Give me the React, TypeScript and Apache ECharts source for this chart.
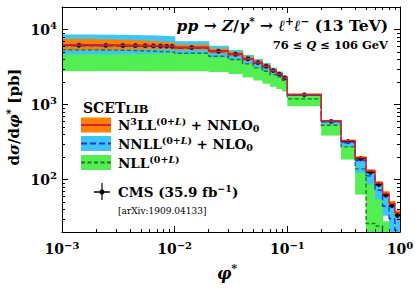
import React, { useEffect, useRef } from 'react';
import * as echarts from 'echarts';

// phi* bin edges
const binEdges = [
  0.001, 0.002, 0.003, 0.004, 0.005, 0.006, 0.007, 0.008, 0.009,
  0.01, 0.02, 0.03, 0.04, 0.05, 0.06, 0.07, 0.08, 0.09,
  0.1, 0.2, 0.3, 0.4, 0.5, 0.6, 0.7, 0.8, 0.9, 1.0,
];

// CMS data [pb]
const cmsValues = [6180, 6160, 6140, 6120, 6100, 6060, 6040, 6010, 5970, 5760, 5140, 4690, 4080, 3630, 3240, 2840, 2550, 2270, 1347, 598, 321, 190, 125, 86, 62, 45, 33.4];
const cmsErrors = [120, 120, 120, 120, 120, 120, 120, 120, 120, 110, 100, 90, 80, 75, 65, 60, 55, 50, 30, 14, 8, 6, 4, 3.5, 3, 2.5, 2.2];

// N3LL(0+L)+NNLO0
const n3llCentral = [6210, 6190, 6170, 6150, 6120, 6090, 6060, 6030, 5990, 5790, 5160, 4700, 4090, 3640, 3250, 2850, 2560, 2280, 1360, 605, 330, 196, 130, 90, 65, 48, 36];
const n3llLow = [5330, 5360, 5400, 5430, 5450, 5470, 5480, 5480, 5460, 5360, 4800, 4410, 3850, 3440, 3080, 2710, 2440, 2180, 1320, 585, 314, 185, 122, 84, 60, 44, 32];
const n3llHigh = [7470, 7400, 7300, 7200, 7100, 7000, 6900, 6800, 6700, 6280, 5550, 5020, 4330, 3830, 3400, 2970, 2660, 2360, 1400, 625, 342, 205, 137, 95, 70, 52, 39];

// NNLL(0+L)+NLO0
const nnllCentral = [6100, 6080, 6060, 6040, 6010, 5980, 5950, 5920, 5880, 5650, 5060, 4610, 4010, 3570, 3190, 2800, 2520, 2250, 1340, 590, 310, 180, 112, 72, 44, 30, 21];
const nnllLow = [4640, 4660, 4680, 4700, 4730, 4760, 4800, 4850, 4900, 4720, 4220, 3890, 3470, 3120, 2820, 2500, 2300, 2090, 1300, 545, 275, 123, 86, 54, 33, 15, 12];
const nnllHigh = [8580, 8550, 8500, 8450, 8400, 8350, 8300, 8230, 8150, 7000, 6000, 5300, 4550, 4000, 3530, 3060, 2710, 2390, 1380, 615, 330, 198, 130, 90, 64, 48, 35];

// NLL(0+L)
const nllCentral = [5360, 5320, 5280, 5230, 5180, 5130, 5080, 5040, 5000, 4830, 4400, 3990, 3490, 3090, 2780, 2510, 2340, 2110, 1191, 530, 273, 139, 26, 24, 12, 8, 5];
const nllLow = [2790, 2790, 2790, 2785, 2785, 2780, 2780, 2780, 2780, 2780, 2720, 2550, 2300, 2100, 1900, 1730, 1610, 1490, 949, 386, 185, 63, 10, 10, 10, 5, 5];
const nllHigh = [8000, 7950, 7900, 7850, 7800, 7750, 7700, 7650, 7600, 6900, 6100, 5350, 4600, 4050, 3580, 3110, 2760, 2430, 1330, 581, 300, 160, 100, 60, 27.8, 20, 15];

// ticks
const xMajorTicks = [0.001, 0.01, 0.1, 1];
const xMinorTicks = [0.002, 0.003, 0.004, 0.005, 0.006, 0.007, 0.008, 0.009, 0.02, 0.03, 0.04, 0.05, 0.06, 0.07, 0.08, 0.09, 0.2, 0.3, 0.4, 0.5, 0.6, 0.7, 0.8, 0.9];
const yMajorTicks = [100, 1000, 10000];
const yMinorTicks = [30, 40, 50, 60, 70, 80, 90, 200, 300, 400, 500, 600, 700, 800, 900, 2000, 3000, 4000, 5000, 6000, 7000, 8000, 9000];

const X_MIN = 0.001, X_MAX = 1, Y_MIN = 20, Y_MAX = 20000;

const FONT = '"DejaVu Serif", "Liberation Serif", serif';
const C_ORANGE = '#ff8000';
const C_RED = '#d8203c';
const C_CYAN = '#40c4f2';
const C_BLUE = '#1a35e8';
const C_GREEN = '#52ee52';
const C_DGREEN = '#1c7a1c';

function bandSeries(name: string, lo: number[], hi: number[], color: string) {
  return {
    type: 'custom', name, silent: true, clip: true,
    encode: { x: [0, 1], y: [2, 3] },
    data: lo.map((l, i) => [binEdges[i], binEdges[i + 1], l, hi[i]]),
    renderItem: (params: any, api: any) => {
      const cs = params.coordSys;
      const a = api.coord([api.value(0), api.value(3)]);
      const b = api.coord([api.value(1), api.value(2)]);
      const top = Math.max(a[1], cs.y);
      const bottom = Math.min(b[1], cs.y + cs.height);
      if (bottom <= top) return null;
      return {
        type: 'rect',
        shape: { x: a[0], y: top, width: b[0] - a[0] + 0.6, height: bottom - top },
        style: { fill: color },
      };
    },
  };
}

function stepSeries(name: string, vals: number[], color: string, width: number, dash: any) {
  return {
    type: 'line', name, silent: true, step: 'end', symbol: 'none', showSymbol: false, clip: true,
    data: binEdges.map((e, i) => [e, vals[Math.min(i, vals.length - 1)]]),
    lineStyle: { color, width, type: dash },
  };
}

const supText = (e: number) => (e < 0 ? '\u2212' + (-e) : String(e));
const tickRich = {
  b: { fontFamily: FONT, fontWeight: 'bold', fontSize: 14, lineHeight: 18, color: '#000' },
  s: { fontFamily: FONT, fontWeight: 'bold', fontSize: 10, lineHeight: 10, verticalAlign: 'top', color: '#000' },
};
const tickFormatter = (v: number) => `{b|10}{s|${supText(Math.round(Math.log10(v)))}}`;

function xAxisDef(position: string, ticks: number[], len: number, line: boolean, labels: boolean) {
  return {
    type: 'log', logBase: 10, min: X_MIN, max: X_MAX, position, gridIndex: 0, z: 5,
    axisLine: { show: line, onZero: false, lineStyle: { color: '#000', width: 1 } },
    axisTick: { show: true, inside: true, length: len, customValues: ticks, lineStyle: { color: '#000', width: 1 } },
    axisLabel: labels
      ? { show: true, customValues: ticks, formatter: tickFormatter, rich: tickRich, margin: 8 }
      : { show: false },
    splitLine: { show: false }, minorTick: { show: false }, minorSplitLine: { show: false },
  };
}
function yAxisDef(position: string, ticks: number[], len: number, line: boolean, labels: boolean) {
  return {
    type: 'log', logBase: 10, min: Y_MIN, max: Y_MAX, position, gridIndex: 0, z: 5,
    axisLine: { show: line, onZero: false, lineStyle: { color: '#000', width: 1 } },
    axisTick: { show: true, inside: true, length: len, customValues: ticks, lineStyle: { color: '#000', width: 1 } },
    axisLabel: labels
      ? { show: true, customValues: ticks, formatter: tickFormatter, rich: tickRich, margin: 5 }
      : { show: false },
    splitLine: { show: false }, minorTick: { show: false }, minorSplitLine: { show: false },
  };
}

const bold = { fontFamily: FONT, fontWeight: 'bold', fill: '#000' };
const richStd = (size: number, sup: number, lh: number) => ({
  r: { ...bold, fontSize: size, lineHeight: lh },
  i: { ...bold, fontStyle: 'italic', fontSize: size, lineHeight: lh },
  s: { ...bold, fontSize: sup, lineHeight: sup, verticalAlign: 'top' },
  si: { ...bold, fontStyle: 'italic', fontSize: sup, lineHeight: sup, verticalAlign: 'top' },
  u: { ...bold, fontSize: sup, lineHeight: sup, verticalAlign: 'bottom' },
});

function txt(x: number, y: number, text: string, rich: any, align = 'left', extra: any = {}) {
  return {
    type: 'text', x, y, z: 20, ...extra,
    style: { text, rich, align, verticalAlign: 'middle', textAlign: align, textVerticalAlign: 'middle', fill: '#000', fontFamily: FONT, fontWeight: 'bold', fontSize: 14 },
  };
}

const centers = cmsValues.map((_, i) => Math.sqrt(binEdges[i] * binEdges[i + 1]));

const option: any = {
  animation: false,
  backgroundColor: '#fff',
  grid: { left: 62, right: 15, top: 7, bottom: 56, containLabel: false, outerBoundsMode: 'none' },
  xAxis: [
    xAxisDef('bottom', xMajorTicks, 6, true, true),
    xAxisDef('bottom', xMinorTicks, 3, false, false),
    xAxisDef('top', xMajorTicks, 6, true, false),
    xAxisDef('top', xMinorTicks, 3, false, false),
  ],
  yAxis: [
    yAxisDef('left', yMajorTicks, 6, true, true),
    yAxisDef('left', yMinorTicks, 3, false, false),
    yAxisDef('right', yMajorTicks, 6, true, false),
    yAxisDef('right', yMinorTicks, 3, false, false),
  ],
  series: [
    bandSeries('NLL band', nllLow, nllHigh, C_GREEN),
    bandSeries('NNLL band', nnllLow, nnllHigh, C_CYAN),
    bandSeries('N3LL band', n3llLow, n3llHigh, C_ORANGE),
    stepSeries('NLL', nllCentral, C_DGREEN, 1.4, [4, 2.5]),
    stepSeries('NNLL', nnllCentral, C_BLUE, 1.4, [6, 3]),
    stepSeries('N3LL', n3llCentral, C_RED, 1.5, 'solid'),
    {
      type: 'custom', name: 'CMS errors', silent: true, clip: true,
      encode: { x: [0, 1, 2], y: [3] },
      data: cmsValues.map((v, i) => [binEdges[i], binEdges[i + 1], centers[i], v, cmsErrors[i]]),
      renderItem: (params: any, api: any) => {
        const l = api.coord([api.value(0), api.value(3)]);
        const r = api.coord([api.value(1), api.value(3)]);
        const up = api.coord([api.value(2), api.value(3) + api.value(4)]);
        const dn = api.coord([api.value(2), api.value(3) - api.value(4)]);
        return {
          type: 'group',
          children: [
            { type: 'line', shape: { x1: l[0], y1: l[1], x2: r[0], y2: r[1] }, style: { stroke: '#000', lineWidth: 1.5 } },
            { type: 'line', shape: { x1: up[0], y1: up[1], x2: dn[0], y2: dn[1] }, style: { stroke: '#000', lineWidth: 1.2 } },
          ],
        };
      },
    },
    {
      type: 'scatter', name: 'CMS', silent: true, symbol: 'circle', symbolSize: 5,
      itemStyle: { color: '#000' },
      data: cmsValues.map((v, i) => [centers[i], v]),
    },
  ],
  graphic: [
    // title
    txt(388, 25, '{i|pp}{r| \u2192 }{i|Z}{r|/}{i|\u03b3}{s|*}{r| \u2192 }{i|\u2113}{s|+}{i|\u2113}{s|\u2212}{r| (13 TeV)}', richStd(15.5, 10.5, 20), 'right'),
    txt(388, 45, '{r|76 \u2264 }{i|Q}{r| \u2264 106 GeV}', richStd(11.5, 8, 14), 'right'),
    // y axis name
    txt(14, 117, '{r|d}{i|\u03c3}{r|/d}{i|\u03c6}{s|*}{r| [pb]}', richStd(15, 10.5, 19), 'center', { rotation: Math.PI / 2 }),
    // x axis name
    txt(227, 273, '{i|\u03c6}{s|*}', richStd(16, 11, 20), 'center'),
    // legend
    txt(83, 108, '{a|SCET}{b|LIB}', {
      a: { ...bold, fontSize: 14, lineHeight: 14, verticalAlign: 'bottom' },
      b: { ...bold, fontSize: 11.5, lineHeight: 11.5, verticalAlign: 'bottom' },
    }),
    { type: 'rect', z: 20, shape: { x: 81, y: 117.5, width: 30, height: 15 }, style: { fill: C_ORANGE } },
    { type: 'line', z: 21, shape: { x1: 81, y1: 125, x2: 111, y2: 125 }, style: { stroke: C_RED, lineWidth: 2 } },
    { type: 'rect', z: 20, shape: { x: 81, y: 136, width: 30, height: 15 }, style: { fill: C_CYAN } },
    { type: 'line', z: 21, shape: { x1: 81, y1: 143.5, x2: 111, y2: 143.5 }, style: { stroke: C_BLUE, lineWidth: 2, lineDash: [6, 3] } },
    { type: 'rect', z: 20, shape: { x: 81, y: 155, width: 30, height: 15 }, style: { fill: C_GREEN } },
    { type: 'line', z: 21, shape: { x1: 81, y1: 162.5, x2: 111, y2: 162.5 }, style: { stroke: C_DGREEN, lineWidth: 2, lineDash: [4, 2.5] } },
    txt(118, 125, '{r|N}{s|3}{r|LL}{s|(0+}{si|L}{s|)}{r| + NNLO}{u|0}', richStd(13.5, 9.5, 17)),
    txt(118, 144, '{r|NNLL}{s|(0+}{si|L}{s|)}{r| + NLO}{u|0}', richStd(13.5, 9.5, 17)),
    txt(118, 162.5, '{r|NLL}{s|(0+}{si|L}{s|)}', richStd(13.5, 9.5, 17)),
    { type: 'line', z: 21, shape: { x1: 94, y1: 192, x2: 110, y2: 192 }, style: { stroke: '#000', lineWidth: 1.5 } },
    { type: 'line', z: 21, shape: { x1: 102, y1: 183, x2: 102, y2: 200 }, style: { stroke: '#000', lineWidth: 1.2 } },
    { type: 'circle', z: 22, shape: { cx: 102, cy: 192, r: 2.5 }, style: { fill: '#000' } },
    txt(118, 192, '{r|CMS (35.9 fb}{s|\u22121}{r|)}', richStd(13.5, 9.5, 17)),
    txt(118, 211, '{r|[arXiv:1909.04133]}', { r: { fontFamily: FONT, fontWeight: 'normal', fontSize: 9, fill: '#000' } }),
  ],
};

export default function App() {
  const ref = useRef<HTMLDivElement>(null);
  useEffect(() => {
    if (!ref.current) return;
    const chart = echarts.init(ref.current, null, { renderer: 'svg' });
    chart.setOption(option);
    return () => chart.dispose();
  }, []);
  return (
    <div
      ref={ref}
      style={{ position: 'absolute', left: 0, top: 0, width: 415, height: 288, background: '#fff' }}
    />
  );
}
